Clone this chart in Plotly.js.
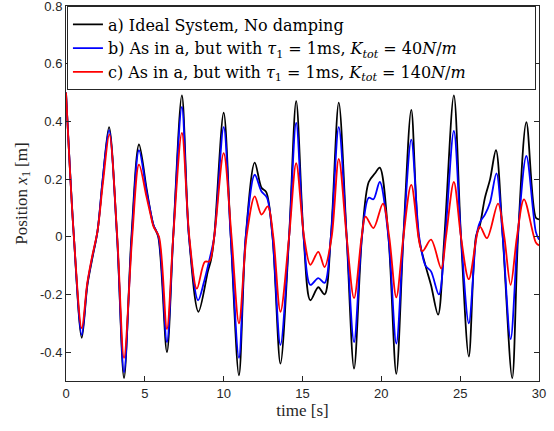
<!DOCTYPE html>
<html>
<head>
<meta charset="utf-8">
<script src="https://cdn.plot.ly/plotly-3.0.1.min.js"></script>
<style>html,body{margin:0;padding:0;background:#fff;}#chart{width:554px;height:431px;}</style>
</head>
<body>
<div id="chart"></div>
<script>
// a) Ideal system, no damping
const tA = [0,0.5,1.0,1.35,1.65,2.0,2.33,2.73,3.24,3.68,4.15,4.63,5.1,5.35,5.55,5.85,6.4,6.8,7.35,7.8,8.4,9.0,9.2,9.4,10.0,10.45,10.97,11.4,11.97,12.4,12.7,13.1,13.6,14.15,14.6,15.07,15.5,16.0,16.4,16.8,17.3,17.8,18.27,18.77,19.2,19.6,19.9,20.45,20.95,21.4,21.9,22.37,22.8,23.15,23.6,24.0,24.6,25.05,25.55,26.0,26.25,26.57,26.9,27.27,27.7,28.3,28.67,29.2,29.8,30];
const yA = [0.50,0.0,-0.35,-0.17,-0.08,0.02,0.20,0.38,0.0,-0.49,0.0,0.32,0.17,0.09,0.04,0.0,-0.40,0.0,0.49,0.0,-0.26,-0.12,-0.08,0.0,0.43,0.0,-0.48,0.0,0.257,0.17,0.155,0.0,-0.44,0.0,0.47,0.0,-0.22,-0.175,-0.20,0.0,0.465,0.0,-0.457,0.0,0.19,0.22,0.24,0.0,-0.475,0.0,0.44,0.0,-0.10,-0.167,-0.27,0.0,0.49,0.0,-0.415,0.0,0.04,0.135,0.20,0.30,0.0,-0.49,0.0,0.397,0.066,0.06];
// b) tau1 = 1ms, Ktot = 40 N/m
const tB = [0,0.5,1.0,1.35,1.65,2.0,2.33,2.73,3.24,3.68,4.17,4.63,5.1,5.35,5.55,5.87,6.4,6.8,7.35,7.8,8.38,8.75,9.05,9.4,10.0,10.45,10.97,11.4,11.97,12.4,12.75,13.1,13.6,14.15,14.6,15.07,15.5,16.0,16.4,16.8,17.3,17.8,18.27,18.77,19.2,19.5,19.9,20.45,20.95,21.4,21.9,22.4,22.8,23.15,23.65,24.05,24.6,25.05,25.55,26.02,26.25,26.57,26.9,27.3,27.7,28.2,28.65,29.2,29.8,30];
const yB = [0.50,0.0,-0.34,-0.165,-0.075,0.02,0.20,0.37,0.0,-0.47,0.0,0.30,0.16,0.09,0.04,0.0,-0.365,0.0,0.45,0.0,-0.22,-0.157,-0.09,0.0,0.38,0.0,-0.42,0.0,0.215,0.157,0.135,0.0,-0.375,0.0,0.395,0.0,-0.167,-0.143,-0.16,0.0,0.38,0.0,-0.365,0.0,0.135,0.13,0.19,0.0,-0.37,0.0,0.337,0.0,-0.10,-0.12,-0.20,0.0,0.367,0.0,-0.30,0.0,0.05,0.077,0.12,0.22,0.0,-0.355,0.0,0.28,0.017,-0.01];
// c) tau1 = 1ms, Ktot = 140 N/m
const tC = [0,0.5,1.0,1.35,1.65,2.0,2.35,2.75,3.25,3.68,4.2,4.63,5.1,5.35,5.55,5.9,6.4,6.8,7.35,7.82,8.3,8.8,9.1,9.4,10.0,10.5,10.97,11.45,11.97,12.4,12.8,13.15,13.6,14.15,14.6,15.1,15.5,16.0,16.4,16.85,17.3,17.8,18.27,18.75,19.0,19.5,20.1,20.5,20.95,21.4,21.9,22.6,23.15,23.8,24.1,24.6,25.05,25.55,26.25,26.7,27.4,27.8,28.2,28.6,29.05,29.8,30];
const yC = [0.50,0.0,-0.317,-0.16,-0.07,0.02,0.19,0.355,0.0,-0.42,0.0,0.25,0.14,0.08,0.035,0.0,-0.32,0.0,0.36,0.0,-0.18,-0.087,-0.085,0.0,0.29,0.0,-0.30,0.0,0.14,0.077,0.105,0.0,-0.26,0.0,0.255,0.0,-0.097,-0.052,-0.105,0.0,0.27,0.0,-0.213,0.0,0.07,0.03,0.115,0.0,-0.21,0.0,0.18,-0.05,-0.01,-0.11,0.0,0.19,0.0,-0.147,0.035,-0.005,0.115,0.0,-0.167,0.0,0.13,-0.02,-0.03];

const names = [
  'a) Ideal System, No damping',
  'b) As in a, but with <i>τ</i><sub>1</sub> = 1ms, <i>K</i><sub><i>tot</i></sub> = 40<i>N</i>/<i>m</i>',
  'c) As in a, but with <i>τ</i><sub>1</sub> = 1ms, <i>K</i><sub><i>tot</i></sub> = 140<i>N</i>/<i>m</i>'
];
const xTicks = [0,5,10,15,20,25,30];
const yTicks = [-0.4,-0.2,0,0.2,0.4,0.6,0.8];

const mk = (x,y,name,color)=>({x:x,y:y,name:name,type:'scatter',mode:'lines',
  line:{color:color,width:1.8,shape:'spline',smoothing:0.9}});
const data = [mk(tA,yA,names[0],'#000000'),mk(tB,yB,names[1],'#0000ff'),mk(tC,yC,names[2],'#ff0000')];

const serif = 'Liberation Serif, DejaVu Serif, serif';
const axCommon = {showgrid:false,zeroline:false,showline:true,mirror:'ticks',linecolor:'#262626',linewidth:1,
  ticks:'inside',ticklen:5,tickcolor:'#262626',ticklabeloverflow:'allow',
  tickfont:{family:'Liberation Sans, Arial, sans-serif',size:13,color:'#262626'}};
const layout = {
  width:554,height:431,
  margin:{l:66,r:15,t:6,b:50},
  paper_bgcolor:'#ffffff',plot_bgcolor:'#ffffff',
  showlegend:true,
  legend:{orientation:'h',entrywidthmode:'fraction',entrywidth:0.975,
    x:0.002,y:0.999,xanchor:'left',yanchor:'top',bgcolor:'#ffffff',bordercolor:'#262626',borderwidth:1,
    font:{family:'DejaVu Serif, Liberation Serif, serif',size:16,color:'#000'},tracegroupgap:0,itemwidth:30},
  xaxis:Object.assign({},axCommon,{range:[0,30],tickvals:xTicks,ticktext:xTicks.map(String),
    title:{text:'time [s]',font:{family:serif,size:17,color:'#262626'},standoff:4}}),
  yaxis:Object.assign({},axCommon,{range:[-0.5,0.8001],tickvals:yTicks,ticktext:yTicks.map(v=>String(v)),
    title:{text:'Position <i>x</i><sub>1</sub> [m]',font:{family:serif,size:17,color:'#262626'},standoff:8}})
};
Plotly.newPlot('chart',data,layout,{staticPlot:true,displayModeBar:false});
</script>
</body>
</html>
